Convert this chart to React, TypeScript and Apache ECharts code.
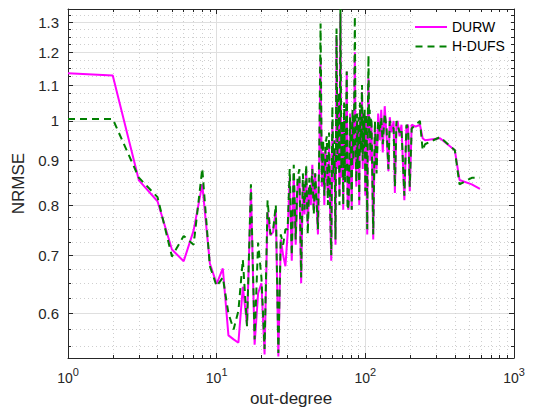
import React, { useEffect, useRef } from 'react';
import * as echarts from 'echarts';

// out-degree values (x) and the NRMSE of each method (y)
const degrees = [
  1, 2, 3, 4, 5, 6, 7, 8, 9, 10, 11, 12, 13, 14, 15, 16, 17, 18, 19, 20,
  21, 22, 23, 24, 25, 26, 27, 28, 29, 30, 31, 32, 33, 34, 35, 36, 37, 38, 39, 40,
  41, 42, 43, 44, 45, 46, 47, 48, 49, 50, 51, 52, 53, 54, 55, 56, 57, 58, 59, 60,
  61, 62, 63, 64, 65, 66, 67, 68, 69, 70, 71, 72, 73, 74, 75, 76, 77, 78, 79, 80,
  81, 82, 83, 84, 85, 86, 87, 88, 89, 90, 91, 92, 93, 94, 95, 96, 97, 98, 99, 100,
  101, 102, 103, 104, 105, 106, 107, 108, 109, 110,
  113, 116, 119, 122, 125, 128, 131, 135, 139, 143, 146, 150, 155, 158, 162, 165,
  170, 175, 183, 189, 194, 199, 205, 218, 233, 243, 252, 318, 400, 430, 520, 590,
];

const durw = [
  1.135, 1.128, 0.854, 0.808, 0.711, 0.689, 0.748, 0.845, 0.685, 0.649,
  0.676, 0.566, 0.56, 0.555, 0.644, 0.582, 0.835, 0.552, 0.633, 0.65,
  0.538, 0.785, 0.738, 0.745, 0.79, 0.535, 0.73, 0.7, 0.68, 0.74,
  0.86, 0.69, 0.87, 0.72, 0.84, 0.86, 0.65, 0.85, 0.78, 0.88,
  0.76, 0.84, 0.8, 0.89, 0.79, 0.87, 0.8, 0.74, 0.91, 1.18,
  0.84, 0.92, 0.8, 0.93, 0.86, 0.82, 0.95, 0.78, 0.69, 1.0,
  0.85, 0.93, 0.72, 1.25, 0.88, 1.05, 0.82, 1.33, 0.86, 0.98,
  0.79, 1.02, 0.87, 0.94, 1.14, 0.8, 0.79, 0.85, 1.02, 0.9,
  0.79, 1.0, 0.88, 0.97, 1.2, 0.92, 0.84, 1.0, 0.9, 0.98,
  0.8, 1.03, 0.93, 0.99, 1.08, 0.88, 1.0, 0.92, 1.01, 0.82,
  0.97, 1.0, 0.74, 1.01, 1.12, 0.95, 1.01, 0.9, 1.0, 0.99,
  0.73, 0.98, 0.88, 1.02, 0.95, 1.03, 0.92, 1.04, 0.96, 0.875, 1.01, 0.97, 1.0, 0.826, 0.99, 1.0,
  0.96, 0.99, 0.81, 0.985, 0.99, 0.83, 0.99, 0.985, 0.99, 0.955, 0.95, 0.955, 0.925, 0.855, 0.845, 0.835,
];

const hdufs = [
  1.005, 1.005, 0.86, 0.817, 0.698, 0.737, 0.72, 0.881, 0.68, 0.645,
  0.66, 0.6, 0.575, 0.604, 0.692, 0.58, 0.845, 0.56, 0.724, 0.66,
  0.546, 0.81, 0.74, 0.75, 0.8, 0.54, 0.74, 0.72, 0.75, 0.75,
  0.88, 0.7, 0.89, 0.73, 0.86, 0.88, 0.66, 0.87, 0.79, 0.89,
  0.74, 0.86, 0.82, 0.88, 0.78, 0.87, 0.81, 0.75, 0.93, 1.295,
  0.85, 0.95, 0.82, 0.94, 0.96, 0.8, 0.97, 0.79, 0.7, 1.04,
  0.87, 0.95, 0.73, 1.278, 0.9, 1.08, 0.8, 1.345, 0.88, 1.0,
  0.8, 1.05, 0.85, 0.96, 1.14, 0.79, 0.8, 0.87, 1.01, 0.92,
  0.79, 1.03, 0.9, 0.99, 1.32, 0.94, 0.85, 1.02, 0.88, 1.01,
  0.81, 1.05, 0.92, 1.0, 1.1, 0.9, 1.02, 0.93, 1.03, 0.83,
  0.99, 1.02, 0.75, 1.02, 1.19, 0.97, 1.03, 0.92, 1.01, 1.0,
  0.74, 1.0, 0.87, 1.0, 0.97, 1.01, 0.94, 1.02, 0.98, 0.88, 1.0, 0.99, 0.98, 0.84, 1.0, 0.99,
  0.97, 0.98, 0.82, 0.99, 0.98, 0.84, 0.98, 0.99, 1.0, 0.925, 0.94, 0.958, 0.925, 0.845, 0.86, 0.86,
];

const seriesNames = ['DURW', 'H-DUFS'];
const xMajorTicks = [1, 10, 100, 1000];
const xMinorTicks = [2, 3, 4, 5, 6, 7, 8, 9, 20, 30, 40, 50, 60, 70, 80, 90, 200, 300, 400, 500, 600, 700, 800, 900];
const yMajorTicks = [0.6, 0.7, 0.8, 0.9, 1, 1.1, 1.2, 1.3];
const yMinorTicks = [
  0.55, 0.575, 0.625, 0.65, 0.675, 0.725, 0.75, 0.775, 0.825, 0.85, 0.875,
  0.925, 0.95, 0.975, 1.025, 1.05, 1.075, 1.125, 1.15, 1.175, 1.225, 1.25, 1.275, 1.325,
];

const X_MIN = 1;
const X_MAX = 1000;
const Y_MIN = 0.533;
const Y_MAX = 1.346;

const AX = '#262626';
const FONT = '"Liberation Sans", Arial, Helvetica, sans-serif';
const MAJOR_GRID = '#dfdfdf';
const MINOR_GRID = '#cfcfcf';

function App() {
  const ref = useRef<HTMLDivElement>(null);

  useEffect(() => {
    if (!ref.current) return;
    const chart = echarts.init(ref.current, null, { renderer: 'svg' });

    const xBase = { type: 'log', logBase: 10, min: X_MIN, max: X_MAX, gridIndex: 0 };
    const yBase = { type: 'log', logBase: 10, min: Y_MIN, max: Y_MAX, gridIndex: 0 };
    const hidden = { show: false };

    const xAxis: any[] = [
      {
        ...xBase,
        position: 'bottom',
        axisLine: { show: true, onZero: false, lineStyle: { color: AX, width: 1 } },
        axisTick: { show: true, inside: true, length: 5, customValues: xMajorTicks, lineStyle: { color: AX, width: 1 } },
        axisLabel: {
          show: true,
          customValues: xMajorTicks,
          margin: 8,
          formatter: (v: number) => `{b|10}{s|${Math.round(Math.log10(v))}}`,
          rich: {
            b: { fontSize: 14, fontFamily: FONT, color: AX, lineHeight: 19, verticalAlign: 'bottom' },
            s: { fontSize: 11, fontFamily: FONT, color: AX, lineHeight: 11, verticalAlign: 'top' },
          },
        },
        splitLine: { show: true, lineStyle: { color: MAJOR_GRID, width: 1 } },
        minorTick: hidden,
        minorSplitLine: hidden,
        name: 'out-degree',
        nameLocation: 'middle',
        nameGap: 31,
        nameTextStyle: { fontSize: 17, fontFamily: FONT, color: AX },
      },
      {
        ...xBase,
        position: 'bottom',
        axisLine: hidden,
        axisTick: { show: true, inside: true, length: 3, customValues: xMinorTicks, lineStyle: { color: AX, width: 1 } },
        axisLabel: hidden,
        splitLine: { show: true, lineStyle: { color: MINOR_GRID, width: 1, type: [1, 3] } },
      },
      {
        ...xBase,
        position: 'top',
        axisLine: { show: true, onZero: false, lineStyle: { color: AX, width: 1 } },
        axisTick: { show: true, inside: true, length: 5, customValues: xMajorTicks, lineStyle: { color: AX, width: 1 } },
        axisLabel: hidden,
        splitLine: hidden,
      },
      {
        ...xBase,
        position: 'top',
        axisLine: hidden,
        axisTick: { show: true, inside: true, length: 3, customValues: xMinorTicks, lineStyle: { color: AX, width: 1 } },
        axisLabel: hidden,
        splitLine: hidden,
      },
    ];

    const yAxis: any[] = [
      {
        ...yBase,
        position: 'left',
        axisLine: { show: true, onZero: false, lineStyle: { color: AX, width: 1 } },
        axisTick: { show: true, inside: true, length: 5, customValues: yMajorTicks, lineStyle: { color: AX, width: 1 } },
        axisLabel: {
          show: true,
          customValues: yMajorTicks,
          margin: 9,
          fontSize: 15,
          fontFamily: FONT,
          color: AX,
          formatter: (v: number) => String(Number(v.toFixed(3))),
        },
        splitLine: { show: true, lineStyle: { color: MAJOR_GRID, width: 1 } },
        minorTick: hidden,
        minorSplitLine: hidden,
        name: 'NRMSE',
        nameLocation: 'middle',
        nameGap: 33,
        nameTextStyle: { fontSize: 17, fontFamily: FONT, color: AX },
      },
      {
        ...yBase,
        position: 'left',
        axisLine: hidden,
        axisTick: { show: true, inside: true, length: 3, customValues: yMinorTicks, lineStyle: { color: AX, width: 1 } },
        axisLabel: hidden,
        splitLine: { show: true, lineStyle: { color: MINOR_GRID, width: 1, type: [1, 3] } },
      },
      {
        ...yBase,
        position: 'right',
        axisLine: { show: true, onZero: false, lineStyle: { color: AX, width: 1 } },
        axisTick: { show: true, inside: true, length: 5, customValues: yMajorTicks, lineStyle: { color: AX, width: 1 } },
        axisLabel: hidden,
        splitLine: hidden,
      },
      {
        ...yBase,
        position: 'right',
        axisLine: hidden,
        axisTick: { show: true, inside: true, length: 3, customValues: yMinorTicks, lineStyle: { color: AX, width: 1 } },
        axisLabel: hidden,
        splitLine: hidden,
      },
    ];

    const option: any = {
      animation: false,
      backgroundColor: '#ffffff',
      textStyle: { fontFamily: FONT },
      grid: { left: 68, top: 9, width: 446, height: 349, containLabel: false, outerBoundsMode: 'none' },
      xAxis,
      yAxis,
      legend: {
        show: true,
        orient: 'vertical',
        left: 413,
        top: 13,
        itemWidth: 32,
        itemHeight: 2,
        itemGap: 3.4,
        itemTextGap: 3,
        padding: [6, 6, 3, 2],
        backgroundColor: '#ffffff',
        textStyle: { fontSize: 14, lineHeight: 16, color: '#000000', fontFamily: FONT },
        itemStyle: { borderWidth: 0 },
        data: [
          { name: seriesNames[0], icon: 'rect', itemStyle: { color: '#ff00ff', borderWidth: 0 } },
          {
            name: seriesNames[1],
            icon: 'path://M0,0h7v2h-7z M12,0h7v2h-7z M24,0h7v2h-7z',
            itemStyle: { color: '#008000', borderWidth: 0 },
          },
        ],
      },
      series: [
        {
          name: seriesNames[0],
          type: 'line',
          xAxisIndex: 0,
          yAxisIndex: 0,
          data: degrees.map((d, i) => [d, durw[i]]),
          showSymbol: false,
          symbol: 'none',
          color: '#ff00ff',
          lineStyle: { color: '#ff00ff', width: 2 },
          clip: true,
          z: 3,
        },
        {
          name: seriesNames[1],
          type: 'line',
          xAxisIndex: 0,
          yAxisIndex: 0,
          data: degrees.map((d, i) => [d, hdufs[i]]),
          showSymbol: false,
          symbol: 'none',
          color: '#008000',
          lineStyle: { color: '#008000', width: 2, type: [7, 5] },
          clip: true,
          z: 4,
        },
      ],
    };

    chart.setOption(option);
    return () => chart.dispose();
  }, []);

  return (
    <div
      ref={ref}
      style={{ position: 'fixed', left: 0, top: 0, width: 536, height: 411, background: '#ffffff' }}
    />
  );
}

export default App;
